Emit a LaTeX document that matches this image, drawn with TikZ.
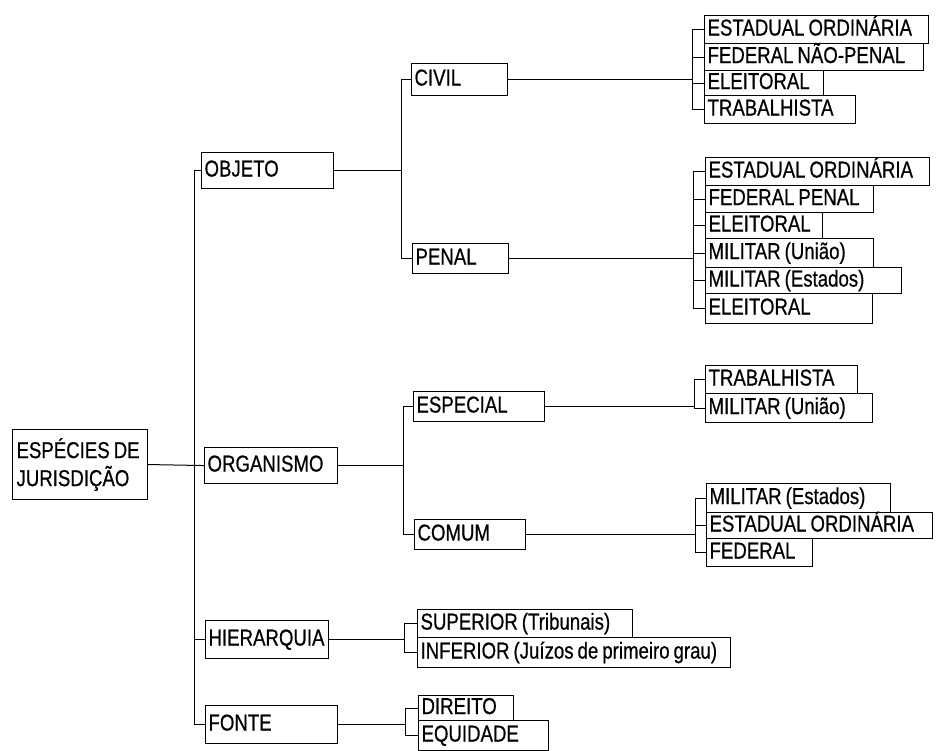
\documentclass[tikz,border=0pt]{standalone}
\usepackage{fontspec}
\setmainfont{Liberation Sans}[FakeStretch=0.81, FakeBold=0.6]
\newcommand{\boxfont}{\fontsize{23}{28}\selectfont}
\newcommand{\sk}{\hspace{4pt}}
\tikzset{
  box/.style={draw, line width=1.1pt, inner xsep=3pt, inner ysep=0pt,
    font=\boxfont, text height=16.5pt, text depth=4.5pt, align=left},
  link/.style={line width=1pt},
}
\newcommand{\bx}[6]{%
  \pgfmathsetmacro{\bxw}{#4-#2-6}\pgfmathsetmacro{\bxh}{#5-#3}%
  \node[box, anchor=north west, minimum height=\bxh pt, text width=\bxw pt] (#1) at (#2,#3) {\mbox{#6}};}
\begin{document}
\begin{tikzpicture}[x=1pt,y=-1pt]
\useasboundingbox (0,0) rectangle (938,751);
% root
\node[draw, line width=1.1pt, inner xsep=4pt, inner ysep=0pt, font=\boxfont,
  align=left, text width=127pt, minimum height=70pt, anchor=north west] (root) at (12,429)
  {\mbox{ESPÉCIES\sk DE}\\\mbox{JURISDIÇÃO}};
% level 1
\bx{objeto}{201}{152}{333}{188}{OBJETO}
\bx{organismo}{204}{447}{337}{483}{ORGANISMO}
\bx{hierarquia}{205}{620}{328}{658}{HIERARQUIA}
\bx{fonte}{205}{705}{337}{743}{FONTE}
% level 2
\bx{civil}{411}{63}{507}{95}{CIVIL}
\bx{penal}{412}{243}{508}{273}{PENAL}
\bx{especial}{413}{391}{544}{421}{ESPECIAL}
\bx{comum}{414}{519}{525}{549}{COMUM}
\bx{superior}{417}{609}{632}{637}{SUPERIOR\sk (Tribunais)}
\bx{inferior}{417}{637}{730}{667}{INFERIOR\sk (Juízos\sk de\sk primeiro\sk grau)}
\bx{direito}{418}{695}{513}{720}{DIREITO}
\bx{equidade}{418}{720}{548}{750}{EQUIDADE}
% level 3 - civil
\bx{c1}{704}{15}{928}{43}{ESTADUAL\sk ORDINÁRIA}
\bx{c2}{704}{43}{923}{70}{FEDERAL\sk NÃO-PENAL}
\bx{c3}{704}{70}{823}{95}{ELEITORAL}
\bx{c4}{704}{95}{855}{123}{TRABALHISTA}
% penal
\bx{p1}{705}{157}{929}{185}{ESTADUAL\sk ORDINÁRIA}
\bx{p2}{705}{185}{873}{212}{FEDERAL\sk PENAL}
\bx{p3}{705}{212}{822}{238}{ELEITORAL}
\bx{p4}{705}{238}{873}{267}{MILITAR\sk (União)}
\bx{p5}{705}{267}{901}{293}{MILITAR\sk (Estados)}
\bx{p6}{705}{293}{872}{323}{ELEITORAL}
% especial
\bx{e1}{705}{365}{857}{393}{TRABALHISTA}
\bx{e2}{705}{393}{872}{422}{MILITAR\sk (União)}
% comum
\bx{m1}{706}{483}{890}{512}{MILITAR\sk (Estados)}
\bx{m2}{706}{512}{932}{538}{ESTADUAL\sk ORDINÁRIA}
\bx{m3}{706}{538}{812}{566}{FEDERAL}
% bus coordinates
\coordinate (t0) at (194,0);
\coordinate (v1) at (401,0);
\coordinate (v2) at (403,0);
\coordinate (v3) at (404,0);
\coordinate (v4) at (405,0);
\coordinate (w1) at (692,0);
\coordinate (w2) at (693,0);
\coordinate (w3) at (694,0);
\coordinate (w4) at (695,0);
% root -> level 1
\draw[link] (root.east) -- (organismo.west);
\draw[link] (objeto.west) -- (objeto.west -| t0) -- (fonte.west -| t0) -- (fonte.west);
\draw[link] (hierarquia.west -| t0) -- (hierarquia.west);
% objeto
\draw[link] (objeto.east) -- (objeto.east -| v1);
\draw[link] (civil.west) -- (civil.west -| v1) -- (penal.west -| v1) -- (penal.west);
% organismo
\draw[link] (organismo.east) -- (organismo.east -| v2);
\draw[link] (especial.west) -- (especial.west -| v2) -- (comum.west -| v2) -- (comum.west);
% hierarquia
\draw[link] (hierarquia.east) -- (hierarquia.east -| v3);
\draw[link] (superior.west) -- (superior.west -| v3) -- (inferior.west -| v3) -- (inferior.west);
% fonte
\draw[link] (fonte.east) -- (fonte.east -| v4);
\draw[link] (direito.west) -- (direito.west -| v4) -- (equidade.west -| v4) -- (equidade.west);
% civil
\draw[link] (civil.east) -- (civil.east -| w1);
\draw[link] (c1.west) -- (c1.west -| w1) -- (c4.west -| w1) -- (c4.west);
\foreach \n in {c2,c3} \draw[link] (\n.west -| w1) -- (\n.west);
% penal
\draw[link] (penal.east) -- (penal.east -| w2);
\draw[link] (p1.west) -- (p1.west -| w2) -- (p6.west -| w2) -- (p6.west);
\foreach \n in {p2,p3,p4,p5} \draw[link] (\n.west -| w2) -- (\n.west);
% especial
\draw[link] (especial.east) -- (especial.east -| w3);
\draw[link] (e1.west) -- (e1.west -| w3) -- (e2.west -| w3) -- (e2.west);
% comum
\draw[link] (comum.east) -- (comum.east -| w4);
\draw[link] (m1.west) -- (m1.west -| w4) -- (m3.west -| w4) -- (m3.west);
\draw[link] (m2.west -| w4) -- (m2.west);
\end{tikzpicture}
\end{document}
